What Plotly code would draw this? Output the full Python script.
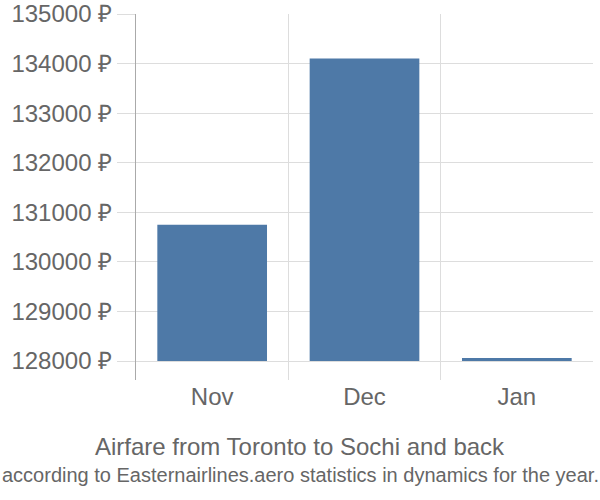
import plotly.graph_objects as go

months = ["Nov", "Dec", "Jan"]
prices = [130750, 134100, 128060]
base_price = 128000
y_ticks = [128000, 129000, 130000, 131000, 132000, 133000, 134000, 135000]
y_ticktext = [f"{v} ₽" for v in y_ticks]
title = "Airfare from Toronto to Sochi and back"
subtitle = "according to Easternairlines.aero statistics in dynamics for the year."

fig = go.Figure()
fig.add_trace(go.Bar(
    x=months,
    y=[p - base_price for p in prices],
    base=base_price,
    marker=dict(color="#4e79a7", line=dict(width=0)),
    width=0.72,
    hoverinfo="skip",
))

font_family = "Liberation Sans, Arial, sans-serif"
L, R, T, B = 136, 7, 14, 120
fig.update_layout(
    width=600, height=500,
    margin=dict(l=L, r=R, t=T, b=B, autoexpand=False),
    paper_bgcolor="white", plot_bgcolor="white",
    showlegend=False,
    font=dict(family=font_family, color="#666666", size=24),
    xaxis=dict(
        type="category",
        tickson="boundaries",
        showgrid=True, gridcolor="#dddddd", gridwidth=1,
        ticks="", showline=False, zeroline=False,
        tickfont=dict(size=24, color="#666666"),
        automargin=False,
    ),
    yaxis=dict(
        range=[127617, 135000],
        tickvals=y_ticks, ticktext=y_ticktext,
        showgrid=True, gridcolor="#dddddd", gridwidth=1,
        ticks="outside", ticklen=18, tickcolor="#dddddd",
        showline=True, linecolor="#aaaaaa", linewidth=1,
        zeroline=False,
        tickfont=dict(size=24, color="#666666"),
        automargin=False,
    ),
)
plot_w = 600 - L - R
plot_h = 500 - T - B
for text, ypix, size in [(title, 446, 24), (subtitle, 475, 20)]:
    fig.add_annotation(
        text=text, xref="paper", yref="paper",
        x=(300 - L) / plot_w, y=(500 - B - ypix) / plot_h,
        xanchor="center", yanchor="middle", showarrow=False,
        font=dict(size=size, color="#666666"),
    )

fig.write_html("out.html")
